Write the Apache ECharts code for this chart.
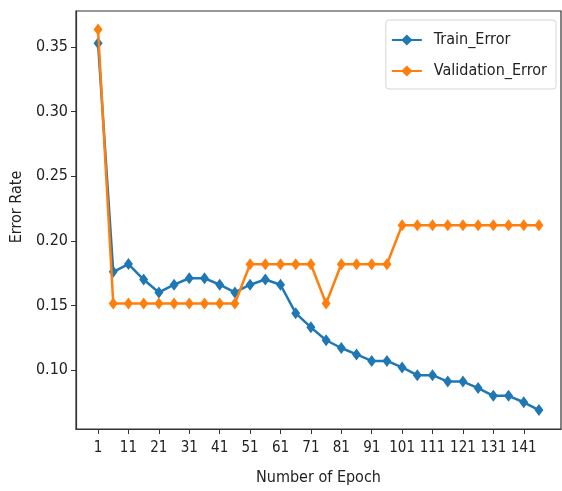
<!DOCTYPE html>
<html>
<head>
<meta charset="utf-8">
<script src="https://cdn.jsdelivr.net/npm/echarts@6/dist/echarts.min.js"></script>
<style>
  html, body { margin: 0; padding: 0; background: #fff; }
  #chart { width: 562px; height: 491px; }
</style>
</head>
<body>
<div id="chart"></div>
<script>
// Epochs sampled every 5 steps
const epochs = [1, 6, 11, 16, 21, 26, 31, 36, 41, 46, 51, 56, 61, 66, 71,
                76, 81, 86, 91, 96, 101, 106, 111, 116, 121, 126, 131, 136, 141, 146];

const trainError = [0.353, 0.176, 0.182, 0.170, 0.160, 0.166, 0.171, 0.171, 0.166, 0.160,
                    0.166, 0.170, 0.166, 0.144, 0.133, 0.123, 0.117, 0.112, 0.107, 0.107,
                    0.102, 0.096, 0.096, 0.091, 0.091, 0.086, 0.080, 0.080, 0.075, 0.069];

const validationError = [0.3636, 0.1515, 0.1515, 0.1515, 0.1515, 0.1515, 0.1515, 0.1515, 0.1515, 0.1515,
                         0.1818, 0.1818, 0.1818, 0.1818, 0.1818, 0.1515, 0.1818, 0.1818, 0.1818, 0.1818,
                         0.2121, 0.2121, 0.2121, 0.2121, 0.2121, 0.2121, 0.2121, 0.2121, 0.2121, 0.2121];

const xTicks = [1, 11, 21, 31, 41, 51, 61, 71, 81, 91, 101, 111, 121, 131, 141];
const yTicks = [0.10, 0.15, 0.20, 0.25, 0.30, 0.35];

const FONT = "'DejaVu Sans Condensed', 'Liberation Sans Narrow', 'DejaVu Sans', sans-serif";
const INK = '#333';

function pairs(xs, ys) { return xs.map((x, i) => [x, ys[i]]); }

const chart = echarts.init(document.getElementById('chart'), null, { renderer: 'canvas' });

chart.setOption({
  animation: false,
  backgroundColor: '#fff',
  grid: {
    left: 76, right: 1, top: 11, bottom: 59,
    show: true, borderColor: INK, borderWidth: 1.2, backgroundColor: 'transparent'
  },
  xAxis: {
    type: 'value',
    min: -6.25, max: 153.25,
    name: 'Number of Epoch',
    nameLocation: 'middle',
    nameGap: 41,
    nameTextStyle: { fontFamily: FONT, fontSize: 16, color: '#222' },
    splitLine: { show: false },
    axisLine: { show: true, onZero: false, lineStyle: { color: INK, width: 1.2 } },
    axisTick: { show: true, length: 5, customValues: xTicks, lineStyle: { color: INK, width: 1 } },
    axisLabel: { customValues: xTicks, margin: 12, fontFamily: FONT, fontSize: 15, color: '#222' }
  },
  yAxis: {
    type: 'value',
    min: 0.0543, max: 0.3779,
    name: 'Error Rate',
    nameLocation: 'middle',
    nameGap: 50,
    nameRotate: 90,
    nameTextStyle: { fontFamily: FONT, fontSize: 16, color: '#222', padding: [0, 0, 0, 26] },
    splitLine: { show: false },
    axisLine: { show: true, onZero: false, lineStyle: { color: INK, width: 1.2 } },
    axisTick: { show: true, length: 5, customValues: yTicks, lineStyle: { color: INK, width: 1 } },
    axisLabel: {
      customValues: yTicks, margin: 8, fontFamily: FONT, fontSize: 16, color: '#222',
      formatter: v => v.toFixed(2)
    }
  },
  legend: {
    orient: 'vertical',
    right: 6, top: 20,
    padding: [12, 9, 10, 5],
    itemWidth: 30, itemHeight: 14, itemGap: 15,
    backgroundColor: '#fff',
    borderColor: '#d6d6d6', borderWidth: 1, borderRadius: 3,
    textStyle: { fontFamily: FONT, fontSize: 16, color: '#222', padding: [0, 0, 0, 7] },
    data: ['Train_Error', 'Validation_Error']
  },
  series: [
    {
      name: 'Train_Error',
      type: 'line',
      data: pairs(epochs, trainError),
      color: '#1f77b4',
      lineStyle: { width: 2.5 },
      symbol: 'diamond',
      symbolSize: [9, 12],
      showAllSymbol: true,
      z: 2
    },
    {
      name: 'Validation_Error',
      type: 'line',
      data: pairs(epochs, validationError),
      color: '#ff7f0e',
      lineStyle: { width: 2.5 },
      symbol: 'diamond',
      symbolSize: [9, 12],
      showAllSymbol: true,
      z: 3
    }
  ]
});
</script>
</body>
</html>
